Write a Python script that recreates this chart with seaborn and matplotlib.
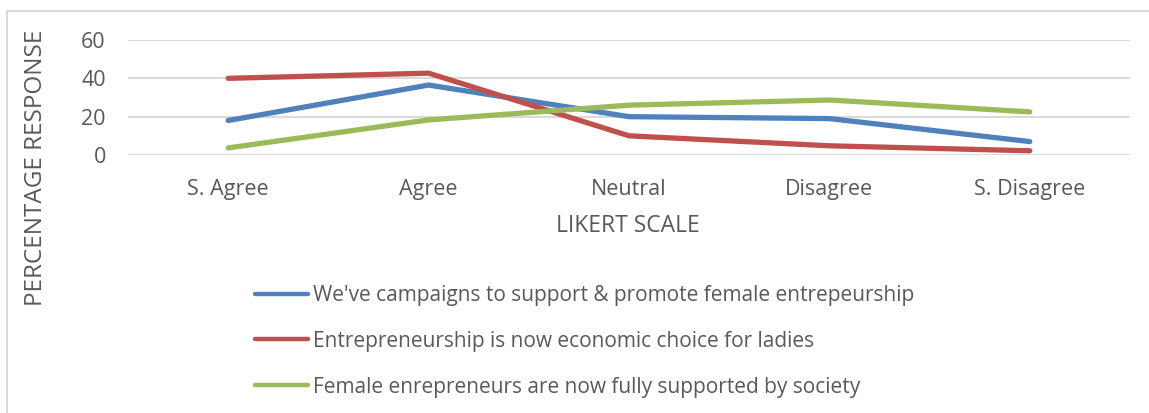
import matplotlib
matplotlib.use("Agg")
import matplotlib.pyplot as plt
import matplotlib.patches as mpatches
import seaborn as sns
import pandas as pd

# Likert categories and the percentage responses for each statement
categories = ["S. Agree", "Agree", "Neutral", "Disagree", "S. Disagree"]
campaigns = [18, 36.5, 20, 19, 7]
economic_choice = [40, 42.7, 10, 4.8, 2.2]
society_support = [3.7, 18.3, 26, 28.7, 22.5]
series_names = [
    "We've campaigns to support & promote female entrepeurship",
    "Entrepreneurship is now economic choice for ladies",
    "Female enrepreneurs are now fully supported by society",
]
y_ticks = [0, 20, 40, 60]

colors = ["#4F81BD", "#C0504D", "#9BBB59"]
text_color = "#595959"
grid_color = "#D9D9D9"

sns.set_theme(style="white")
plt.rcParams["font.family"] = ["Open Sans", "DejaVu Sans"]

rows = []
for name, vals in zip(series_names, [campaigns, economic_choice, society_support]):
    for i, (cat, v) in enumerate(zip(categories, vals)):
        rows.append({"pos": i, "category": cat, "value": v, "series": name})
df = pd.DataFrame(rows)

W, H = 1149, 413
fig = plt.figure(figsize=(W / 100, H / 100), dpi=100)

# light outer frame of the chart area
fig.patches.append(mpatches.Rectangle((7 / W, -0.01), 1.02, 1 - 11 / H + 0.01,
                                      transform=fig.transFigure, fill=False,
                                      edgecolor="#D9D9D9", linewidth=1.5))

left, right = 128 / W, 1130 / W
bottom, top = 1 - 155 / H, 1 - 40 / H
ax = fig.add_axes([left, bottom, right - left, top - bottom])

sns.lineplot(data=df, x="pos", y="value", hue="series", hue_order=series_names,
             palette=colors, linewidth=3.8, ax=ax, legend=False,
             solid_capstyle="round", solid_joinstyle="round")

ax.set_xlim(-0.5, len(categories) - 0.5)
ax.set_ylim(0, 60)
ax.set_yticks(y_ticks)
ax.set_xticks(range(len(categories)))
ax.set_xticklabels(categories)
ax.yaxis.grid(True, color=grid_color, linewidth=1.4)
ax.set_axisbelow(True)
for s in ax.spines.values():
    s.set_visible(False)
ax.tick_params(axis="both", length=0, labelsize=15.5, colors=text_color)
ax.tick_params(axis="x", pad=17)
ax.tick_params(axis="y", pad=16)
ax.set_xlabel("")
ax.set_ylabel("")

fig.text(628 / W, 1 - 226 / H, "LIKERT SCALE", ha="center", va="center",
         fontsize=16.5, color=text_color)
fig.text(36 / W, 1 - 168 / H, "PERCENTAGE RESPONSE", ha="center", va="center",
         rotation=90, fontsize=17.5, color=text_color)

handles = [plt.Line2D([], [], color=c, linewidth=3.2, solid_capstyle="round")
           for c in colors]
leg = fig.legend(handles, series_names, loc="upper left",
                 bbox_to_anchor=(255 / W, 1 - 285 / H), frameon=False,
                 fontsize=15, handlelength=2.55, handletextpad=0.25,
                 labelspacing=1.19, borderpad=0, borderaxespad=0)
for t in leg.get_texts():
    t.set_color(text_color)

fig.savefig("out.png", dpi=100, facecolor="white")
